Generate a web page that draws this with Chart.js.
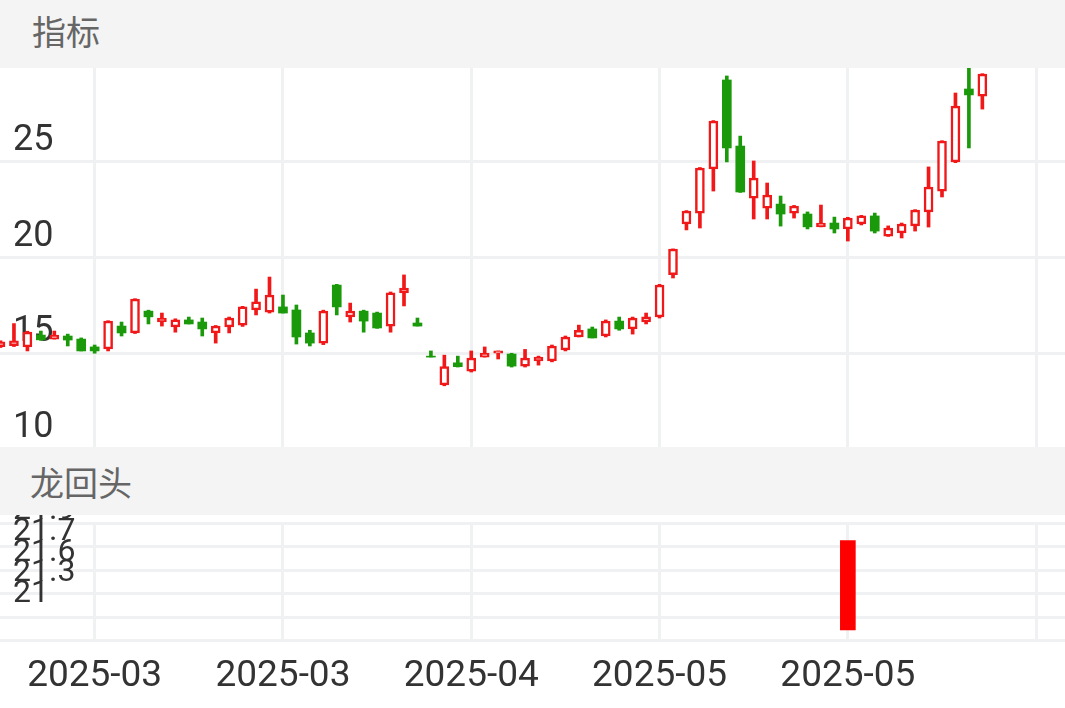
<!DOCTYPE html>
<html>
<head>
<meta charset="utf-8">
<script src="https://cdn.jsdelivr.net/npm/chart.js@4.4.1/dist/chart.umd.min.js"></script>
<style>
  body { margin: 0; width: 1065px; height: 708px; position: relative; overflow: hidden; background: #fff; }
  canvas { position: absolute; left: 0; }
  .cabecera { position: absolute; left: 0; width: 1065px; height: 68px; background: #f4f4f4; color: #666;
              font-size: 34px; box-sizing: border-box; z-index: 2; font-family: "Noto Sans CJK SC", sans-serif; }
</style>
</head>
<body>
<div class="cabecera" style="top:0; line-height:62px; padding-left:32px">指标</div>
<canvas id="velas" width="1065" height="383" style="top:66px"></canvas>
<div class="cabecera" style="top:447px; line-height:70px; padding-left:30px">龙回头</div>
<canvas id="senal" width="1065" height="198" style="top:515px"></canvas>
<script>
// trading days shown on the chart
const dates = [
  '2025-02-20','2025-02-21','2025-02-24','2025-02-25','2025-02-26','2025-02-27','2025-02-28',
  '2025-03-03','2025-03-04','2025-03-05','2025-03-06','2025-03-07','2025-03-10','2025-03-11',
  '2025-03-12','2025-03-13','2025-03-14','2025-03-17','2025-03-18','2025-03-19','2025-03-20',
  '2025-03-21','2025-03-24','2025-03-25','2025-03-26','2025-03-27','2025-03-28','2025-03-31',
  '2025-04-01','2025-04-02','2025-04-03','2025-04-07','2025-04-08','2025-04-09','2025-04-10',
  '2025-04-11','2025-04-14','2025-04-15','2025-04-16','2025-04-17','2025-04-18','2025-04-21',
  '2025-04-22','2025-04-23','2025-04-24','2025-04-25','2025-04-28','2025-04-29','2025-04-30',
  '2025-05-06','2025-05-07','2025-05-08','2025-05-09','2025-05-12','2025-05-13','2025-05-14',
  '2025-05-15','2025-05-16','2025-05-19','2025-05-20','2025-05-21','2025-05-22','2025-05-23',
  '2025-05-26','2025-05-27','2025-05-28','2025-05-29','2025-05-30','2025-06-03','2025-06-04',
  '2025-06-05','2025-06-06','2025-06-09','2025-06-10'
];

const opens = [
  15.35, 15.40, 15.33, 15.95, 15.74, 15.90, 15.74, 15.33, 15.22, 16.42,
  16.06, 17.20, 16.63, 16.37, 16.74, 16.63, 16.06, 16.37, 16.47, 17.26,
  17.15, 17.42, 17.26, 16.06, 15.53, 18.56, 16.90, 17.20, 17.10, 16.42,
  18.15, 16.58, 14.85, 13.35, 14.50, 14.07, 14.80, 15.00, 14.96, 14.33,
  14.60, 14.60, 15.17, 15.85, 16.27, 15.90, 16.68, 16.27, 16.63, 16.90,
  19.10, 21.75, 22.32, 24.62, 29.27, 25.82, 23.10, 22.58, 22.79, 22.32,
  22.27, 21.60, 21.80, 21.49, 21.75, 22.17, 21.12, 21.28, 21.65, 22.38,
  23.47, 24.99, 28.80, 28.43
];
const closes = [
  15.60, 15.65, 16.10, 15.70, 15.95, 15.69, 15.12, 15.12, 16.68, 16.06,
  17.83, 16.90, 16.84, 16.74, 16.53, 16.27, 16.42, 16.84, 17.42, 17.68,
  18.04, 17.10, 15.85, 15.53, 17.20, 17.42, 17.20, 16.68, 16.32, 18.15,
  18.40, 16.42, 14.80, 14.30, 14.30, 14.75, 15.00, 15.12, 14.33, 14.75,
  14.80, 15.38, 15.85, 16.20, 15.80, 16.68, 16.27, 16.84, 16.90, 18.56,
  20.44, 22.43, 24.67, 27.13, 25.72, 23.42, 24.15, 23.26, 22.27, 22.69,
  21.60, 21.80, 21.49, 22.06, 22.17, 21.38, 21.54, 21.75, 22.48, 23.68,
  26.08, 27.91, 28.49, 29.58
];
const highs = [
  15.65, 16.55, 16.15, 16.16, 16.16, 16.00, 15.80, 15.43, 16.70, 16.63,
  17.85, 17.25, 17.10, 16.80, 16.89, 16.84, 16.45, 16.89, 17.45, 18.35,
  18.98, 18.04, 17.52, 16.20, 17.25, 18.60, 17.62, 17.25, 17.15, 18.20,
  19.09, 16.84, 15.12, 14.90, 14.85, 15.12, 15.33, 15.12, 15.00, 15.20,
  14.85, 15.43, 15.90, 16.47, 16.37, 16.74, 16.89, 16.89, 17.10, 18.60,
  20.45, 22.45, 24.70, 27.15, 29.48, 26.34, 25.04, 23.89, 23.21, 22.72,
  22.38, 22.74, 22.11, 22.10, 22.20, 22.32, 21.65, 21.80, 22.50, 24.73,
  26.10, 28.59, 29.95, 29.60
];
const lows = [
  15.30, 15.35, 15.12, 15.68, 15.74, 15.38, 15.12, 15.00, 15.12, 15.90,
  16.03, 16.53, 16.42, 16.10, 16.53, 15.90, 15.53, 16.06, 16.40, 17.00,
  17.10, 17.10, 15.48, 15.38, 15.45, 17.00, 16.63, 16.10, 16.30, 16.10,
  17.47, 16.42, 14.80, 13.30, 14.28, 14.02, 14.80, 14.70, 14.28, 14.28,
  14.38, 14.55, 15.12, 15.85, 15.80, 15.85, 16.20, 16.00, 16.53, 16.84,
  18.93, 21.44, 21.54, 23.47, 24.99, 23.40, 22.01, 22.01, 21.64, 22.06,
  21.49, 21.60, 21.28, 20.86, 21.70, 21.28, 21.10, 21.02, 21.38, 21.59,
  23.16, 24.95, 25.72, 27.75
];

const xTickIdx = [7, 21, 35, 49, 63, 77];
const priceTicks = [10, 15, 20, 25, 30];

// 龙回头 signal
const dragonIdx = [63];
const dragonBase = [21.09];
const dragonTop = [21.85];
const dragonTickLabels = ['21', '21.3', '21.6', '21.7', '21.9'];

const RED = '#f01818';
const GREEN = '#1a9a0a';
const GRID = '#f0f1f3';
const X_MIN = 0.929;
const X_MAX = 79.145;

Chart.defaults.font.family = 'Roboto, "Noto Sans CJK SC", sans-serif';
Chart.defaults.color = '#333';

const sinPadding = s => { s.paddingTop = 0; s.paddingBottom = 0; s.paddingLeft = 0; s.paddingRight = 0; };

function escalaX(conEtiquetas) {
  return {
    type: 'linear', min: X_MIN, max: X_MAX, offset: false,
    afterBuildTicks: s => { s.ticks = xTickIdx.map(v => ({ value: v })); },
    afterFit: sinPadding,
    grid: { color: GRID, lineWidth: 3, drawTicks: false, offset: false },
    border: { display: false },
    ticks: {
      display: conEtiquetas, autoSkip: false, maxRotation: 0, padding: 14,
      font: { size: 37 }, color: '#333',
      callback: v => dates[v] ? dates[v].slice(0, 7) : ''
    }
  };
}

const comunes = {
  responsive: false, animation: false, devicePixelRatio: 1,
  plugins: { legend: { display: false }, tooltip: { enabled: false } }
};

// === K-line ===
const sube = opens.map((o, i) => closes[i] >= o);

new Chart(document.getElementById('velas'), {
  type: 'bar',
  data: {
    datasets: [
      {
        data: opens.map((o, i) => ({ x: i, y: [o, closes[i]] })),
        barThickness: 9,
        backgroundColor: sube.map(u => u ? '#ffffff' : GREEN),
        borderColor: sube.map(u => u ? RED : GREEN),
        borderWidth: sube.map(u => u ? 2.5 : 0),
        borderSkipped: false, grouped: false, order: 1, clip: false
      },
      {
        data: lows.map((l, i) => ({ x: i, y: [l, highs[i]] })),
        barThickness: 3,
        backgroundColor: sube.map(u => u ? RED : GREEN),
        borderWidth: 0, grouped: false, order: 2, clip: false
      }
    ]
  },
  options: {
    ...comunes,
    layout: { padding: 0 },
    scales: {
      x: escalaX(false),
      y: {
        min: 10, max: 30,
        afterBuildTicks: s => { s.ticks = priceTicks.map(v => ({ value: v })); },
        afterFit: sinPadding,
        grid: { color: GRID, lineWidth: 3, drawTicks: true, tickLength: 13 },
        border: { display: false },
        ticks: { mirror: true, padding: 0, labelOffset: -21, autoSkip: false, font: { size: 36 }, color: '#333' }
      }
    }
  }
});

// === 龙回头 ===
new Chart(document.getElementById('senal'), {
  type: 'bar',
  data: {
    datasets: [{
      data: dragonIdx.map((x, k) => ({ x: x, y: [dragonBase[k], dragonTop[k]] })),
      barThickness: 15, backgroundColor: '#ff0000', yAxisID: 'y', grouped: false
    }]
  },
  options: {
    ...comunes,
    layout: { padding: { top: 8, bottom: 0 } },
    scales: {
      x: escalaX(true),
      y: {
        position: 'left', weight: 1, min: 21, max: 22,
        afterFit: sinPadding,
        grid: { color: GRID, lineWidth: 3, drawTicks: true, tickLength: 13 },
        border: { display: false },
        ticks: { display: false, stepSize: 0.2 }
      },
      yl: {
        type: 'linear', position: 'left', weight: 0, min: -2.22, max: 3.42,
        afterBuildTicks: s => { s.ticks = dragonTickLabels.map((t, i) => ({ value: i })); },
        afterFit: sinPadding,
        grid: { display: false, drawTicks: false },
        border: { display: false },
        ticks: { mirror: true, padding: 0, autoSkip: false, font: { size: 32 }, color: '#333',
                 callback: v => dragonTickLabels[v] }
      }
    }
  }
});
</script>
</body>
</html>
